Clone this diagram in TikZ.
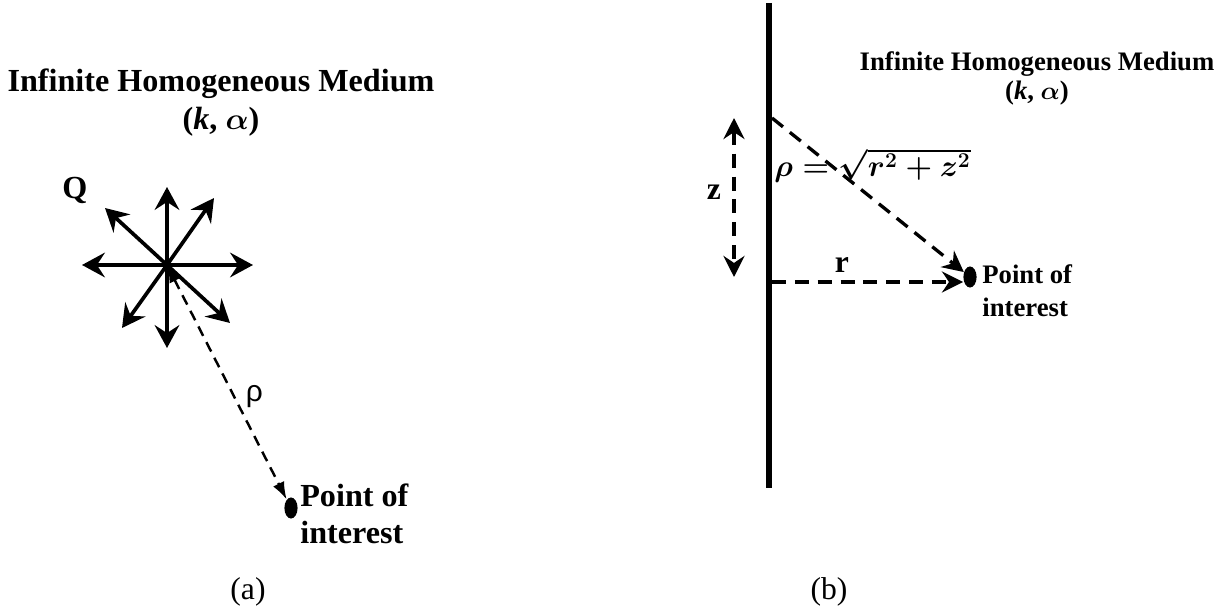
\documentclass[tikz,border=0pt]{standalone}
\usepackage{amsmath,amssymb}
\usepackage{fontspec}
\setmainfont{Liberation Serif}
\newfontfamily\rhofont{Liberation Sans}
\usetikzlibrary{positioning, arrows.meta, shapes.geometric}
\newcommand\distformula{{\boldmath$\rho=\sqrt{r^{2}+z^{2}}$}}

\begin{document}
\begin{tikzpicture}[
  x=0.02cm, y=-0.02cm,
  big/.style={font=\fontsize{18.3}{21}\selectfont\bfseries, inner sep=0pt},
  small/.style={font=\fontsize{15.2}{18.7}\selectfont\bfseries, inner sep=0pt},
  letter/.style={font=\fontsize{18}{20}\selectfont\bfseries, inner sep=0pt},
  caption/.style={font=\fontsize{18}{22}\selectfont, inner sep=0pt},
  formula/.style={font=\fontsize{17}{20}\selectfont, inner sep=0pt},
  ray/.style={line width=2.1pt, -{Stealth[length=13pt,width=14pt,inset=4.5pt]}},
  dashA/.style={line width=1.4pt, dash pattern=on 6pt off 4pt,
    {Latex[length=10pt,width=7pt]}-{Latex[length=10pt,width=7pt]}},
  dashB/.style={line width=1.9pt, dash pattern=on 8pt off 5pt},
  tipB/.style={-{Stealth[length=12pt,width=12pt,inset=4pt]}},
  dot/.style={ellipse, fill, inner sep=0pt, minimum width=7.5pt, minimum height=12pt},
  wall/.style={line width=3.3pt}
]
\useasboundingbox (0,0) rectangle (1231,611);

% (a): point source in an infinite medium
\node[big] (titleA) at (221,84) {Infinite Homogeneous Medium};
\node[big] (paramA) at (221,122) {(\textit{k}, {\boldmath$\alpha$})};
\node[big] (Q) at (75,190) {Q};
\coordinate (src) at (167,265);
\foreach \tx/\ty [count=\i] in {167/187, 214/198, 253/265, 230/323, 167/348, 122/328, 82/265, 105/208} {
  \coordinate (ray\i) at (\tx,\ty);
  \draw[ray] (src) -- (ray\i);
}
\node[dot] (dotA) at (291,508) {};
\draw[dashA] (src) -- (dotA)
  node[pos=0.56, right=6pt, inner sep=0pt, font=\rhofont\fontsize{17}{20}\selectfont] (rhoA) {ρ};
\node[big, anchor=west, align=left] (ptA) at (300,514) {Point of\\interest};
\node[caption] (capA) at (248,592) {(a)};

% (b): line source in an infinite medium
\coordinate (wallT) at (769,3);
\coordinate (wallB) at (769,488);
\draw[wall] (wallT) -- (wallB);
\node[small] (titleB) at (1037,64) {Infinite Homogeneous Medium};
\node[small] (paramB) at (1037,93) {(\textit{k}, {\boldmath$\alpha$})};
\coordinate (top) at (772,118);
\coordinate (foot) at (772,282);
\node[dot] (dotB) at (970,277) {};
\draw[dashB, tipB] (top) -- (dotB);
\draw[dashB, tipB] (foot) -- (foot -| dotB.west);
\coordinate (zT) at (734,118);
\coordinate (zB) at (734,277);
\draw[dashB, {Stealth[length=12pt,width=12pt,inset=4pt]}-{Stealth[length=12pt,width=12pt,inset=4pt]}] (zT) -- (zB);
\node[letter] (zlbl) at (714,192) {z};
\node[letter] (rlbl) at (842,265) {r};
\node[formula, anchor=west] (rhoB) at (774,165) {\distformula};
\node[small, anchor=west, align=left] (ptB) at (982,291) {Point of\\interest};
\node[caption] (capB) at (829,592) {(b)};
\end{tikzpicture}
\end{document}
